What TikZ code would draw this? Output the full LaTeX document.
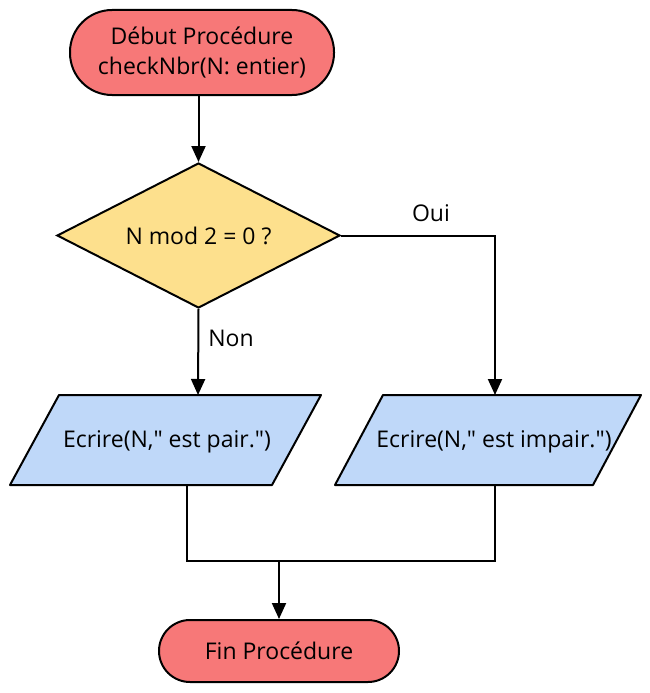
\documentclass[tikz,border=0pt]{standalone}
\usepackage{fontspec}
\setmainfont{Open Sans}
\usetikzlibrary{shapes.geometric,arrows.meta}
\definecolor{termred}{HTML}{F77878}
\definecolor{decyel}{HTML}{FDE08D}
\definecolor{ioblue}{HTML}{BFD8F9}
\begin{document}
\begin{tikzpicture}[x=1pt,y=-1pt,line width=2pt,
  font=\fontsize{23}{30}\selectfont,
  term/.style={draw=black, fill=termred, rectangle, align=center, inner sep=0pt},
  decis/.style={draw=black, fill=decyel, diamond, shape aspect=1.95, inner sep=0pt, minimum width=283pt, minimum height=145pt},
  iobox/.style={draw=black, fill=ioblue, line join=round},
  iotext/.style={inner sep=0pt, align=center},
  lbl/.style={inner sep=0pt},
  arr/.style={-{Triangle[length=16pt,width=14pt]}},
  link/.style={line join=miter}]
\path[fill=white,use as bounding box] (0,0) rectangle (650,693);
% start
\node[term, minimum width=264pt, minimum height=85pt, rounded corners=42pt] (start) at (202,52.5)
  {Début Procédure\\checkNbr(N: entier)};
% decision
\node[decis] (dec) at (198.5,235.5) {N mod 2 = 0 ?};
% parallelograms
\draw[iobox] (59,395) -- (321,395) -- (272,485) -- (10,485) -- cycle;
\node[iotext] (pair) at (167,442) {Ecrire(N,\textquotedbl{} est pair.\textquotedbl)};
\draw[iobox] (383,395) -- (641,395) -- (593,485) -- (335,485) -- cycle;
\node[iotext] (impair) at (494,442) {Ecrire(N,\textquotedbl{} est impair.\textquotedbl)};
\coordinate (pairin) at (198,395);
\coordinate (pairout) at (187,485);
\coordinate (impin) at (495,395);
\coordinate (impout) at (495,485);
\coordinate (merge) at (279,561);
% end
\node[term, minimum width=240pt, minimum height=62pt, rounded corners=31pt] (fin) at (279,651) {Fin Procédure};
% connectors
\draw[arr] (start.south -| dec.north) -- (dec.north);
\draw[arr] (dec.south) -- (pairin);
\draw[arr, link] (dec.east) -- (dec.east -| impin) -- (impin);
\draw[link] (pairout) -- (pairout |- merge) -- (impout |- merge) -- (impout);
\draw[arr] (merge) -- (fin.north);
% labels
\node[lbl] (oui) at (431,213) {Oui};
\node[lbl] (non) at (231,338) {Non};
\end{tikzpicture}
\end{document}
